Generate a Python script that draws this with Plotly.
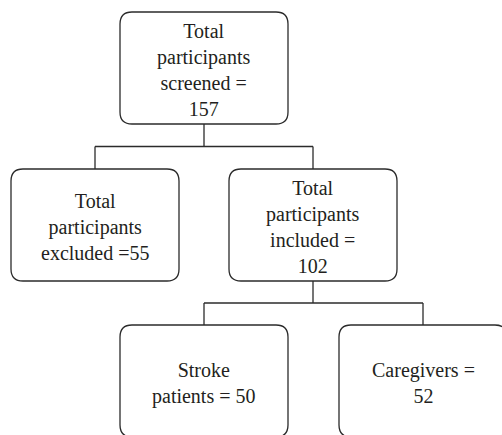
import plotly.graph_objects as go

# ---- data ----
node_names = ["screened", "excluded", "included", "stroke", "caregivers"]
node_counts = [157, 55, 102, 50, 52]
node_labels = [
    "Total<br>participants<br>screened =<br>{}".format(node_counts[0]),
    "Total<br>participants<br>excluded ={}".format(node_counts[1]),
    "Total<br>participants<br>included =<br>{}".format(node_counts[2]),
    "Stroke<br>patients = {}".format(node_counts[3]),
    "Caregivers =<br>{}".format(node_counts[4]),
]
parent_of = [None, 0, 0, 2, 2]

# ---- layout (pixel coordinates) ----
W, H = 502, 435
box_w, box_h = 168, 112
centers = [(204, 68), (95, 225), (313, 225), (204, 381), (423, 381)]
radius = 12
line_col = "#2b2b2b"
lw = 1.3


def rounded_rect(cx, cy, w, h, r):
    x0, x1 = cx - w / 2, cx + w / 2
    y0, y1 = cy - h / 2, cy + h / 2
    return (f"M {x0+r},{y0} L {x1-r},{y0} Q {x1},{y0} {x1},{y0+r} "
            f"L {x1},{y1-r} Q {x1},{y1} {x1-r},{y1} L {x0+r},{y1} "
            f"Q {x0},{y1} {x0},{y1-r} L {x0},{y0+r} Q {x0},{y0} {x0+r},{y0} Z")


shapes = []
for (cx, cy) in centers:
    shapes.append(dict(type="path", path=rounded_rect(cx, cy, box_w, box_h, radius),
                       xref="x", yref="y", line=dict(color=line_col, width=lw)))

# connectors
children = {}
for i, p in enumerate(parent_of):
    if p is not None:
        children.setdefault(p, []).append(i)
for p, kids in children.items():
    px, py = centers[p]
    bottom = py + box_h / 2
    top_child = centers[kids[0]][1] - box_h / 2
    mid = (bottom + top_child) / 2
    xs = [centers[k][0] for k in kids]
    shapes.append(dict(type="line", x0=px, x1=px, y0=bottom, y1=mid, xref="x", yref="y",
                       line=dict(color=line_col, width=lw)))
    shapes.append(dict(type="line", x0=min(xs), x1=max(xs), y0=mid, y1=mid, xref="x", yref="y",
                       line=dict(color=line_col, width=lw)))
    for k in kids:
        shapes.append(dict(type="line", x0=centers[k][0], x1=centers[k][0], y0=mid,
                           y1=centers[k][1] - box_h / 2, xref="x", yref="y",
                           line=dict(color=line_col, width=lw)))

annotations = []
for (cx, cy), lab in zip(centers, node_labels):
    annotations.append(dict(x=cx, y=cy + 2, xref="x", yref="y", text=lab, showarrow=False,
                            font=dict(family="Liberation Serif", size=20, color="#231f20"),
                            align="center", xanchor="center", yanchor="middle"))

fig = go.Figure()
fig.add_trace(go.Scatter(x=[c[0] for c in centers], y=[c[1] for c in centers],
                         mode="markers", marker=dict(opacity=0), hoverinfo="skip",
                         showlegend=False))
fig.update_layout(
    width=W, height=H, margin=dict(l=0, r=0, t=0, b=0),
    paper_bgcolor="white", plot_bgcolor="white",
    xaxis=dict(range=[0, W], visible=False, fixedrange=True),
    yaxis=dict(range=[H, 0], visible=False, fixedrange=True),
    shapes=shapes, annotations=annotations, showlegend=False,
)
fig.write_html("out.html", config={"displayModeBar": False},
               post_script="document.body.style.margin='0';document.body.style.overflow='hidden';")
